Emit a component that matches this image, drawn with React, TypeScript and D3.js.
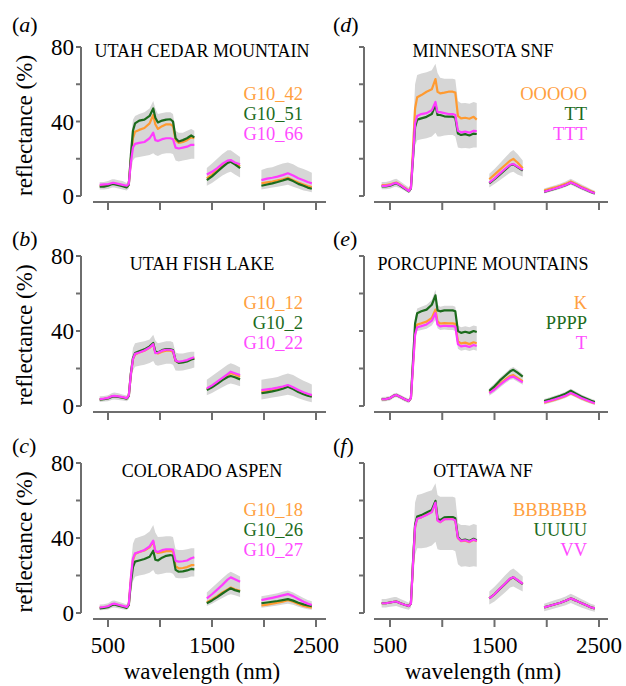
import React from "react";
import * as d3 from "d3";

// shared wavelength grid (nm); null values mark the water-absorption gaps
const wavelengths = [
  420, 460, 500, 540, 560, 600, 640, 680, 700, 720, 740, 760, 800, 850, 900, 935, 955, 980, 1020, 1060, 1100, 1125, 1150, 1180, 1220, 1260, 1300, 1330,
  1390,
  1450, 1500, 1550, 1600, 1650, 1680, 1720, 1770,
  1870,
  1975, 2030, 2080, 2130, 2180, 2230, 2280, 2330, 2380, 2420, 2460,
];

// (a) Utah Cedar Mountain
const aOrange = [5.5, 5.5, 5.8, 6.8, 6.8, 6.2, 5.7, 5.0, 6.3, 20, 31, 34.5, 35.5, 36.5, 39, 43.5, 38.5, 36, 37.5, 38.5, 38.5, 37.5, 30, 28.5, 29, 30, 31.5, 31, null, 9.5, 11.5, 14, 16.5, 18.5, 18.8, 17.5, 16, null, 6.8, 7.3, 7.8, 8.4, 9, 9.8, 8.5, 7.2, 6.2, 5.4, 4.8];
const aGreen = [5.0, 5.0, 5.5, 6.5, 6.4, 5.8, 5.3, 4.6, 6.0, 22, 35, 39, 40.5, 41, 43, 47, 42, 39.5, 40.5, 41, 41.2, 40, 31, 29.3, 30, 31, 32.5, 31.5, null, 8.5, 10.5, 13, 15.5, 17.8, 18.4, 17, 15, null, 5.5, 6.2, 6.8, 7.5, 8.3, 9.2, 8, 6.5, 5.5, 4.5, 3.9];
const aMagenta = [6.0, 6.2, 6.3, 7.0, 7.0, 6.5, 6.0, 5.5, 6.5, 18, 26, 28, 28.5, 29, 31, 34, 30, 29.5, 30.5, 31, 31, 30.5, 26, 25.5, 26, 26.5, 27.5, 27.5, null, 11.5, 13, 15, 17.3, 19, 19.3, 18, 17, null, 8.5, 9.3, 9.8, 10.4, 11.2, 12.2, 11, 9.5, 8.5, 7.5, 6.8];
const aHi = [7.5, 7.5, 8, 9, 9, 8.5, 8, 7, 9, 30, 41, 43, 44, 45, 47, 51, 47, 44, 44.5, 45, 45, 44, 35, 34, 34, 35, 36, 35, null, 15, 17.5, 20, 22.5, 24.5, 24.5, 23, 21, null, 14, 15, 15.5, 16.5, 17.5, 18, 17, 15.5, 14.5, 13.5, 12.5];
const aLo = [3.5, 3.5, 3.8, 4.5, 4.5, 4, 3.5, 3, 4, 13, 19, 20.5, 21, 21.5, 22, 23, 22, 21.5, 22.5, 23, 23, 22.5, 19, 18.5, 19, 19.5, 20, 20, null, 5.5, 7, 9, 11, 12.5, 13, 11.5, 10, null, 3.5, 4, 4.5, 5, 5.5, 6, 5, 4, 3, 2.5, 2];

// (b) Utah Fish Lake
const bOrange = [3.6, 3.8, 4.2, 5.2, 5.3, 5.0, 4.6, 4.1, 5.5, 17, 25, 27.5, 28.5, 29.5, 31, 33, 28.5, 28, 29, 29.5, 29.5, 29, 24, 23.2, 23.5, 24, 25, 25.5, null, 9, 10.5, 12.5, 14.5, 16.5, 17.5, 16.8, 15.6, null, 7.6, 8, 8.5, 9, 9.6, 10.6, 9.4, 7.9, 6.7, 5.9, 5.2];
const bGreen = [3.4, 3.6, 4.0, 5.0, 5.1, 4.8, 4.4, 3.9, 5.3, 17.5, 25.5, 28.2, 29.2, 30.2, 31.8, 33.6, 29, 28.6, 29.8, 30.3, 30.3, 29.8, 24.2, 23, 23.2, 23.8, 24.8, 25.2, null, 8.5, 10, 11.8, 13.8, 15.5, 16, 15.3, 14.2, null, 6.8, 7.3, 7.8, 8.4, 9.2, 10.3, 9, 7.5, 6.3, 5.5, 4.9];
const bMagenta = [3.7, 3.9, 4.3, 5.3, 5.4, 5.1, 4.7, 4.2, 5.6, 17, 25, 27.8, 28.5, 29.6, 31.2, 33, 28.2, 28.4, 29.5, 30, 30, 29.5, 24.2, 23.6, 24, 24.5, 25.5, 26, null, 9.4, 11, 13, 15, 17, 18.3, 17.5, 16.5, null, 8.5, 8.9, 9.3, 9.8, 10.4, 11.2, 10, 8.5, 7.3, 6.5, 5.8];
const bHi = [5.2, 5.4, 5.8, 7, 7.2, 6.8, 6.2, 5.6, 7.5, 22, 31, 33.5, 34, 34.5, 35.5, 38, 35, 33.5, 34, 34.5, 34.5, 34, 28.5, 28, 28, 28.5, 29, 29, null, 14, 16, 18, 20, 22, 22.8, 22, 20.5, null, 14, 14.5, 15, 15.5, 16.5, 17.4, 16.5, 15, 13.5, 12.5, 11.5];
const bLo = [2.2, 2.4, 2.6, 3.4, 3.5, 3.2, 2.9, 2.5, 3.5, 13, 19, 21, 21.5, 22, 23, 24, 22, 21.5, 22, 22.5, 22.5, 22, 19, 18.8, 19, 19.5, 20, 20.5, null, 5.8, 7, 8.5, 10, 11.5, 12, 11.5, 10.5, null, 3.5, 4, 4.5, 5, 5.5, 6, 5.3, 4.2, 3.2, 2.5, 2];

// (c) Colorado Aspen
const cOrange = [2.8, 3, 3.4, 4.6, 4.8, 4.2, 3.6, 3.0, 4.5, 18, 28, 31.5, 32.5, 33.3, 35, 38, 33, 32, 32.5, 33, 33, 32.8, 25, 23.8, 24, 24.5, 25.5, 25.6, null, 5.7, 7.2, 9, 11, 12.6, 13.6, 12.6, 11.8, null, 4, 4.5, 5, 5.5, 6.1, 6.8, 6, 4.8, 3.8, 3.2, 2.8];
const cGreen = [2.5, 2.7, 3.1, 4.3, 4.5, 3.9, 3.3, 2.7, 4.2, 16, 24.5, 27.4, 28, 28.8, 30, 33.2, 28.4, 28, 29.5, 30.5, 30.9, 30.5, 23, 22, 22.2, 22.7, 23.5, 23.3, null, 5.2, 6.7, 8.5, 10.4, 12.2, 13.2, 12.2, 11.4, null, 5.2, 5.6, 6, 6.4, 6.9, 7.4, 6.6, 5.5, 4.6, 4.1, 3.7];
const cMagenta = [3.0, 3.2, 3.6, 4.8, 5.0, 4.4, 3.8, 3.2, 4.7, 19, 29, 31.8, 32.5, 33.6, 35.5, 38.6, 33, 32.5, 33.5, 34, 34, 33.8, 27.8, 27.4, 27.6, 28, 29.2, 29.7, null, 7.8, 10, 12.5, 15, 17.8, 19, 18, 16.7, null, 6.9, 7.5, 8.1, 8.7, 9.4, 10.1, 9, 7.5, 6, 5, 4.3];
const cHi = [4.5, 4.7, 5.2, 6.5, 6.7, 6, 5.3, 4.5, 6.5, 26, 37, 39.8, 40.5, 41.5, 43.5, 46.9, 43, 40.5, 40.7, 41, 41, 40.5, 34, 33.6, 33.6, 34, 34.5, 34.5, null, 11, 13.5, 16, 18.5, 21, 22, 21, 19.5, null, 9, 9.5, 10, 10.6, 11.3, 12, 11, 9.5, 8, 7, 6.3];
const cLo = [1.5, 1.6, 1.9, 2.8, 3, 2.6, 2, 1.6, 2.5, 11, 17, 19.4, 20, 20.5, 21.5, 23, 21, 20.5, 21, 21.5, 21.5, 21, 18.8, 18.5, 18.5, 18.8, 19.5, 19.5, null, 3.7, 5, 6.5, 8, 9.5, 10, 9.5, 8.5, null, 2.8, 3.2, 3.6, 4, 4.5, 5, 4.4, 3.4, 2.6, 2, 1.7];

// (d) Minnesota SNF
const dOrange = [5.9, 5.9, 6.2, 7.0, 7.2, 6.0, 4.5, 2.9, 4.5, 25, 47, 53, 54.2, 56, 57.3, 62.8, 56, 55.1, 55.5, 56, 56, 55.5, 43, 41.7, 42, 41.5, 42.5, 41, null, 9, 11.5, 14, 16.5, 19, 19.9, 18, 14.9, null, 2.9, 3.8, 4.6, 5.5, 6.5, 7.8, 6.5, 5, 3.8, 2.7, 1.8];
const dGreen = [5.2, 5.2, 5.5, 6.5, 6.8, 5.5, 4.0, 2.5, 4.0, 20, 37, 41, 41.7, 42.5, 44, 48.9, 43.5, 43.5, 42.8, 42.6, 42.6, 42, 33.5, 32.8, 33.2, 32.5, 33.5, 33.3, null, 6.8, 9, 11.5, 14, 16.5, 17, 15.5, 13.6, null, 2.2, 3.1, 3.9, 4.8, 5.8, 7.1, 5.9, 4.4, 3.2, 2.2, 1.4];
const dMagenta = [5.4, 5.4, 5.8, 6.8, 7.0, 5.8, 4.2, 2.7, 4.2, 21, 39, 43, 44, 44.5, 46, 50.5, 45, 45, 44.5, 44, 44, 43.5, 35, 34.2, 34.6, 34, 35, 34.8, null, 7.2, 9.4, 12, 14.5, 16.8, 17.2, 15.8, 14, null, 2.3, 3.2, 4, 4.9, 5.9, 7.3, 6, 4.5, 3.3, 2.3, 1.5];
const dHi = [7.5, 7.5, 8, 9, 9.2, 7.8, 6.2, 4.5, 6.5, 35, 60, 65, 65.8, 66.5, 67.5, 71, 66, 63.5, 63, 63, 63, 62.5, 51, 49.8, 50, 49.5, 50.5, 50, null, 12, 14.5, 17.5, 20.5, 23.5, 24.7, 22.5, 19, null, 4, 5, 5.8, 6.7, 7.8, 9.3, 7.8, 6.3, 5, 3.8, 2.8];
const dLo = [3.6, 3.6, 3.9, 4.8, 5, 4, 2.8, 1.5, 2.5, 14, 27, 30, 30.5, 31, 32, 34, 32, 32, 32.5, 32.8, 32.8, 32, 26, 25.6, 25.8, 25.5, 26, 26, null, 4.5, 6.5, 8.5, 10.5, 12.5, 13, 11.5, 10.5, null, 1.3, 2.2, 3, 3.8, 4.8, 6, 4.7, 3.3, 2.2, 1.3, 0.6];

// (e) Porcupine Mountains
const eOrange = [3.6, 3.7, 4.2, 5.6, 5.9, 4.8, 3.6, 2.7, 4.2, 22, 39, 43.5, 44.1, 45, 47, 51.4, 45, 44, 44.2, 44.1, 44.1, 43.8, 34.5, 33.4, 33.8, 33, 34, 33.5, null, 7.3, 9.3, 11.8, 14, 16, 16.5, 15, 13.2, null, 1.8, 2.6, 3.4, 4.3, 5.3, 6.8, 5.5, 4.1, 3, 2.1, 1.4];
const eGreen = [3.6, 3.7, 4.2, 5.6, 5.9, 4.8, 3.6, 2.7, 4.2, 24, 44, 49.5, 50.5, 51.4, 54, 59, 51, 50.5, 51, 51, 51, 50.5, 40, 39, 39.6, 39, 40, 39.5, null, 8.1, 10.5, 13.5, 16, 18.5, 19.3, 17.8, 15.7, null, 2.7, 3.6, 4.5, 5.4, 6.5, 8.1, 6.6, 5.1, 3.9, 2.9, 2.1];
const eMagenta = [3.6, 3.7, 4.2, 5.6, 5.9, 4.8, 3.6, 2.7, 4.2, 21, 38, 42, 42.6, 43.5, 45.5, 49.5, 43.5, 42.5, 42.8, 42.6, 42.6, 42.3, 33, 31.8, 32.2, 31.5, 32.5, 32, null, 6.9, 8.8, 11.2, 13.4, 15.3, 15.7, 14.3, 12.6, null, 2, 2.8, 3.6, 4.5, 5.5, 7, 5.7, 4.3, 3.2, 2.3, 1.5];
const eHi = [4.8, 4.9, 5.4, 6.8, 7.1, 6, 4.8, 3.9, 5.5, 26, 47, 52, 53, 54, 56.5, 62, 54, 53, 53.5, 53.5, 53.5, 53, 43, 42, 42.5, 42, 43, 42.5, null, 9.5, 12, 15, 17.5, 20, 20.8, 19.3, 17, null, 3.8, 4.7, 5.6, 6.5, 7.6, 9.2, 7.7, 6.2, 5, 4, 3.2];
const eLo = [2.4, 2.5, 3, 4.4, 4.7, 3.6, 2.4, 1.5, 3, 19, 35, 40, 40.5, 41.2, 43, 46, 41.5, 40.5, 40.8, 40.5, 40.5, 40, 30.5, 29.5, 30, 29.3, 30, 29.5, null, 5.5, 7.3, 9.8, 12, 14, 14.3, 13, 11.3, null, 0.8, 1.6, 2.4, 3.3, 4.3, 5.8, 4.5, 3.1, 2, 1.2, 0.5];

// (f) Ottawa NF
const fOrange = [5.2, 5.2, 5.6, 6.0, 6.1, 5.2, 4.4, 3.7, 5, 26, 46, 50.5, 51, 52.5, 54, 58.6, 49.5, 48.5, 50, 50.2, 50.2, 49.5, 40, 38.3, 38.6, 37.8, 39, 38.2, null, 7.8, 10, 12.8, 15.5, 18.2, 19, 17.5, 15.5, null, 3, 3.9, 4.7, 5.5, 6.5, 7.8, 6.6, 5.3, 4.1, 3.1, 2.5];
const fGreen = [5.2, 5.2, 5.6, 6.0, 6.1, 5.2, 4.4, 3.7, 5, 27, 47, 51.5, 52.2, 53.6, 55, 59.8, 50.3, 49.5, 51, 51.2, 51.2, 50.5, 40.5, 38.8, 39.2, 38.4, 39.6, 38.8, null, 7.8, 10, 12.8, 15.5, 18.3, 19, 17.4, 15.4, null, 3, 3.9, 4.7, 5.5, 6.5, 7.8, 6.6, 5.3, 4.1, 3.1, 2.5];
const fMagenta = [5.2, 5.2, 5.6, 6.0, 6.1, 5.2, 4.4, 3.7, 5, 26, 46, 50.3, 51, 52.3, 53.8, 58.8, 49.3, 48.5, 50, 50, 50, 49.3, 40, 38.5, 38.8, 38, 39.2, 38.4, null, 7.8, 10, 12.9, 15.6, 18.4, 19.1, 17.6, 15.6, null, 3, 3.9, 4.7, 5.5, 6.5, 7.8, 6.6, 5.3, 4.1, 3.1, 2.5];
const fHi = [7.5, 7.5, 8, 8.5, 8.6, 7.5, 6.5, 5.5, 7.5, 38, 59, 62.9, 63.5, 64.5, 65.5, 69.2, 63, 62, 62, 62, 62, 61.5, 48, 46.9, 47, 46.5, 47.5, 47, null, 11.5, 14, 17, 20, 22.8, 23.8, 22, 19.5, null, 5, 6, 6.9, 7.8, 8.8, 10.3, 9, 7.5, 6.2, 5, 4.3];
const fLo = [3, 3, 3.3, 3.6, 3.7, 3, 2.3, 1.8, 3, 16, 31, 34.5, 34.5, 35, 36, 38, 34, 33.6, 33.6, 33.6, 33.6, 33, 26, 24.7, 25, 24.5, 25, 24.7, null, 4.5, 6.2, 8.6, 11, 13.6, 14.2, 13, 11.5, null, 1, 1.8, 2.5, 3.3, 4.2, 5.3, 4.2, 3, 2, 1.2, 0.7];

const titles = ["UTAH CEDAR MOUNTAIN", "UTAH FISH LAKE", "COLORADO ASPEN", "MINNESOTA SNF", "PORCUPINE MOUNTAINS", "OTTAWA NF"];
const letters = ["a", "b", "c", "d", "e", "f"];
const legendNames = [
  ["G10_42", "G10_51", "G10_66"],
  ["G10_12", "G10_2", "G10_22"],
  ["G10_18", "G10_26", "G10_27"],
  ["OOOOO", "TT", "TTT"],
  ["K", "PPPP", "T"],
  ["BBBBBB", "UUUU", "VV"],
];
const seriesByPanel = [
  [aOrange, aGreen, aMagenta],
  [bOrange, bGreen, bMagenta],
  [cOrange, cGreen, cMagenta],
  [dOrange, dGreen, dMagenta],
  [eOrange, eGreen, eMagenta],
  [fOrange, fGreen, fMagenta],
];
const bandByPanel = [[aLo, aHi], [bLo, bHi], [cLo, cHi], [dLo, dHi], [eLo, eHi], [fLo, fHi]];

const yTicks = [0, 20, 40, 60, 80];
const yTickLabels = [0, 40, 80];
const xTicks = [500, 1000, 1500, 2000, 2500];
const xTickLabels = [500, 1500, 2500];

const lineColors = ["#ff9a30", "#1c6b1c", "#ff3cff"];
const textColors = ["#ffa040", "#1c6b1c", "#ff4cff"];
const axisColor = "#6e6e6e";
const bandColor = "#d6d6d6";
const font = "'Liberation Serif', 'DejaVu Serif', serif";

const cols = [
  { yAxisX: 81, x0: 108, x1: 316, axisFrom: 93, axisTo: 326, titleX: 202, legendX: 303, letterX: 12 },
  { yAxisX: 364, x0: 390, x1: 599, axisFrom: 374, axisTo: 608, titleX: 483, legendX: 587, letterX: 333 },
];
const rows = [
  { top: 47, bottom: 196, titleY: 57, letterY: 32 },
  { top: 256, bottom: 406, titleY: 270, letterY: 246 },
  { top: 463, bottom: 613, titleY: 477, letterY: 453 },
];

function Panel({ index }: { index: number }) {
  const col = cols[Math.floor(index / 3)];
  const row = rows[index % 3];
  const isLeft = index < 3;
  const isBottom = index % 3 === 2;

  const x = d3.scaleLinear().domain([500, 2500]).range([col.x0, col.x1]);
  const y = d3.scaleLinear().domain([0, 80]).range([row.bottom, row.top]);

  const line = d3
    .line<number | null>()
    .defined((d) => d != null)
    .x((_, i) => x(wavelengths[i]))
    .y((d) => y(d as number));

  const [lo, hi] = bandByPanel[index];
  const band = d3
    .area<number>()
    .defined((i) => lo[i] != null)
    .x((i) => x(wavelengths[i]))
    .y0((i) => y(lo[i] as number))
    .y1((i) => y(hi[i] as number));

  const xAxisY = row.bottom + 6;

  return (
    <g>
      <path d={band(d3.range(wavelengths.length)) || ""} fill={bandColor} />
      {seriesByPanel[index].map((s, k) => (
        <path key={k} d={line(s) || ""} fill="none" stroke={lineColors[k]} strokeWidth={2.2} strokeLinejoin="round" />
      ))}

      {/* y axis */}
      <line x1={col.yAxisX} x2={col.yAxisX} y1={y(80)} y2={y(0)} stroke={axisColor} strokeWidth={2} />
      {yTicks.map((t) => (
        <line key={t} x1={col.yAxisX - 5} x2={col.yAxisX} y1={y(t)} y2={y(t)} stroke={axisColor} strokeWidth={2} />
      ))}
      {isLeft &&
        yTickLabels.map((t) => (
          <text key={t} x={col.yAxisX - 7} y={y(t)} dy="0.35em" textAnchor="end" fontSize={23}>
            {t}
          </text>
        ))}

      {/* x axis */}
      <line x1={col.axisFrom} x2={col.axisTo} y1={xAxisY} y2={xAxisY} stroke={axisColor} strokeWidth={2} />
      {xTicks.map((t) => (
        <line key={t} x1={x(t)} x2={x(t)} y1={xAxisY} y2={xAxisY + 8} stroke={axisColor} strokeWidth={2} />
      ))}
      {isBottom &&
        xTickLabels.map((t) => (
          <text key={t} x={x(t)} y={row.bottom + 40} textAnchor="middle" fontSize={23}>
            {t}
          </text>
        ))}

      <text x={col.titleX} y={row.titleY} textAnchor="middle" fontSize={18}>
        {titles[index]}
      </text>
      {legendNames[index].map((n, k) => (
        <text key={n} x={col.legendX} y={row.top + 53 + k * 20} textAnchor="end" fontSize={18.5} fill={textColors[k]}>
          {n}
        </text>
      ))}
      <text x={col.letterX} y={row.letterY} fontSize={22}>
        (<tspan fontStyle="italic">{letters[index]}</tspan>)
      </text>

      {isLeft && (
        <text transform={`translate(32,${(row.top + row.bottom) / 2 + 4}) rotate(-90)`} textAnchor="middle" fontSize={23}>
          reflectance (%)
        </text>
      )}
      {isBottom && (
        <text x={col.titleX} y={679} textAnchor="middle" fontSize={23}>
          wavelength (nm)
        </text>
      )}
    </g>
  );
}

export default function App() {
  return (
    <svg
      width={626}
      height={686}
      style={{ position: "absolute", left: 0, top: 0, background: "#fff" }}
      fontFamily={font}
    >
      {d3.range(6).map((i) => (
        <Panel key={i} index={i} />
      ))}
    </svg>
  );
}
